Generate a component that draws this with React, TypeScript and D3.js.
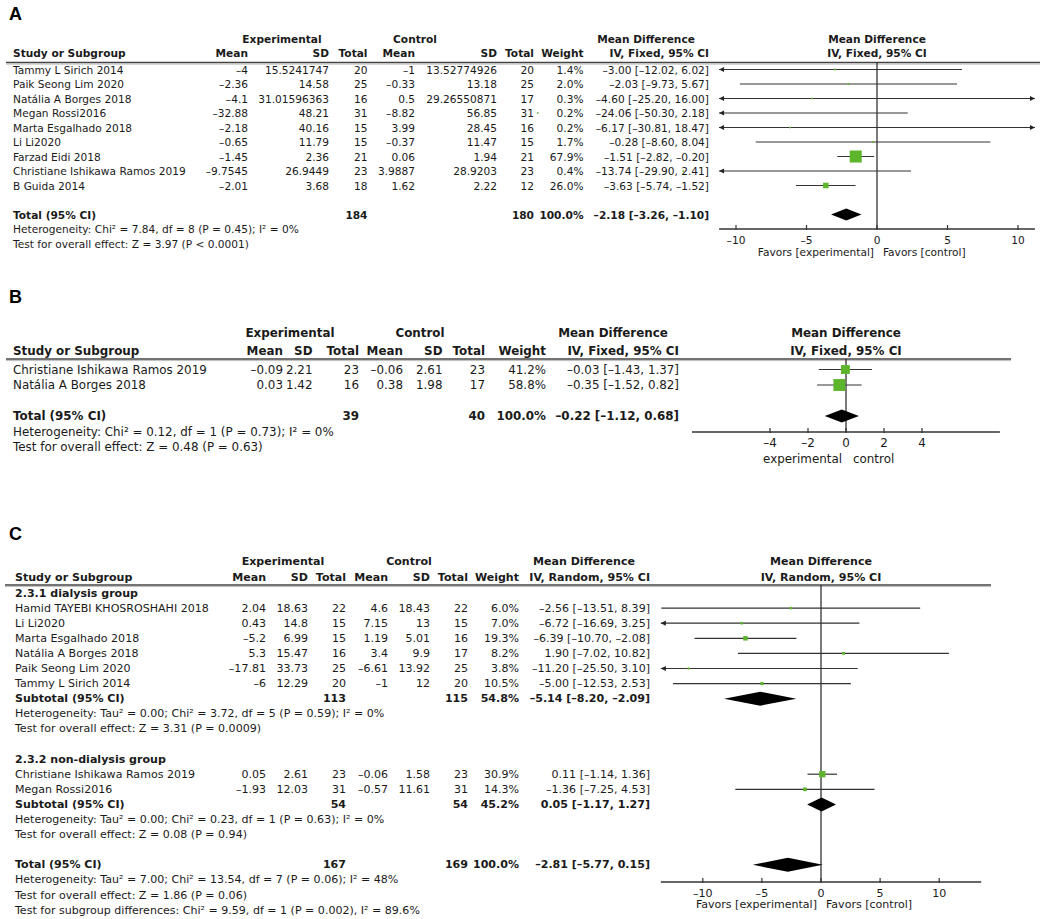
import React from "react";
import * as d3 from "d3";

const FONT = "'DejaVu Sans', Verdana, sans-serif";
const GREEN = "#5db52c";
const INK = "#1a1a1a";

// ---------- Panel A data ----------
const aStudies = ["Tammy L Sirich 2014", "Paik Seong Lim 2020", "Natália A Borges 2018", "Megan Rossi2016", "Marta Esgalhado 2018", "Li Li2020", "Farzad Eidi 2018", "Christiane Ishikawa Ramos 2019", "B Guida 2014"];
const aExpMean = [-4, -2.36, -4.1, -32.88, -2.18, -0.65, -1.45, -9.7545, -2.01];
const aExpSD = [15.5241747, 14.58, 31.01596363, 48.21, 40.16, 11.79, 2.36, 26.9449, 3.68];
const aExpN = [20, 25, 16, 31, 15, 15, 21, 23, 18];
const aCtrlMean = [-1, -0.33, 0.5, -8.82, 3.99, -0.37, 0.06, 3.9887, 1.62];
const aCtrlSD = [13.52774926, 13.18, 29.26550871, 56.85, 28.45, 11.47, 1.94, 28.9203, 2.22];
const aCtrlN = [20, 25, 17, 31, 16, 15, 21, 23, 12];
const aWeight = [1.4, 2.0, 0.3, 0.2, 0.2, 1.7, 67.9, 0.4, 26.0];
const aMD = [-3.0, -2.03, -4.6, -24.06, -6.17, -0.28, -1.51, -13.74, -3.63];
const aLo = [-12.02, -9.73, -25.2, -50.3, -30.81, -8.6, -2.82, -29.9, -5.74];
const aHi = [6.02, 5.67, 16.0, 2.18, 18.47, 8.04, -0.2, 2.41, -1.52];
const aTotal = { n1: 184, n2: 180, w: 100.0, md: -2.18, lo: -3.26, hi: -1.1 };
const aNotes = ["Heterogeneity: Chi² = 7.84, df = 8 (P = 0.45); I² = 0%", "Test for overall effect: Z = 3.97 (P < 0.0001)"];
const aTicks = [-10, -5, 0, 5, 10];

// ---------- Panel B data ----------
const bStudies = ["Christiane Ishikawa Ramos 2019", "Natália A Borges 2018"];
const bExpMean = [-0.09, 0.03];
const bExpSD = [2.21, 1.42];
const bExpN = [23, 16];
const bCtrlMean = [-0.06, 0.38];
const bCtrlSD = [2.61, 1.98];
const bCtrlN = [23, 17];
const bWeight = [41.2, 58.8];
const bMD = [-0.03, -0.35];
const bLo = [-1.43, -1.52];
const bHi = [1.37, 0.82];
const bTotal = { n1: 39, n2: 40, w: 100.0, md: -0.22, lo: -1.12, hi: 0.68 };
const bNotes = ["Heterogeneity: Chi² = 0.12, df = 1 (P = 0.73); I² = 0%", "Test for overall effect: Z = 0.48 (P = 0.63)"];
const bTicks = [-4, -2, 0, 2, 4];

// ---------- Panel C data ----------
const cGroup1Title = "2.3.1 dialysis group";
const cG1Studies = ["Hamid TAYEBI KHOSROSHAHI 2018", "Li Li2020", "Marta Esgalhado 2018", "Natália A Borges 2018", "Paik Seong Lim 2020", "Tammy L Sirich 2014"];
const cG1ExpMean = [2.04, 0.43, -5.2, 5.3, -17.81, -6];
const cG1ExpSD = [18.63, 14.8, 6.99, 15.47, 33.73, 12.29];
const cG1ExpN = [22, 15, 15, 16, 25, 20];
const cG1CtrlMean = [4.6, 7.15, 1.19, 3.4, -6.61, -1];
const cG1CtrlSD = [18.43, 13, 5.01, 9.9, 13.92, 12];
const cG1CtrlN = [22, 15, 16, 17, 25, 20];
const cG1Weight = [6.0, 7.0, 19.3, 8.2, 3.8, 10.5];
const cG1MD = [-2.56, -6.72, -6.39, 1.9, -11.2, -5.0];
const cG1Lo = [-13.51, -16.69, -10.7, -7.02, -25.5, -12.53];
const cG1Hi = [8.39, 3.25, -2.08, 10.82, 3.1, 2.53];
const cG1Sub = { n1: 113, n2: 115, w: 54.8, md: -5.14, lo: -8.2, hi: -2.09 };
const cG1Notes = ["Heterogeneity: Tau² = 0.00; Chi² = 3.72, df = 5 (P = 0.59); I² = 0%", "Test for overall effect: Z = 3.31 (P = 0.0009)"];

const cGroup2Title = "2.3.2 non-dialysis group";
const cG2Studies = ["Christiane Ishikawa Ramos 2019", "Megan Rossi2016"];
const cG2ExpMean = [0.05, -1.93];
const cG2ExpSD = [2.61, 12.03];
const cG2ExpN = [23, 31];
const cG2CtrlMean = [-0.06, -0.57];
const cG2CtrlSD = [1.58, 11.61];
const cG2CtrlN = [23, 31];
const cG2Weight = [30.9, 14.3];
const cG2MD = [0.11, -1.36];
const cG2Lo = [-1.14, -7.25];
const cG2Hi = [1.36, 4.53];
const cG2Sub = { n1: 54, n2: 54, w: 45.2, md: 0.05, lo: -1.17, hi: 1.27 };
const cG2Notes = ["Heterogeneity: Tau² = 0.00; Chi² = 0.23, df = 1 (P = 0.63); I² = 0%", "Test for overall effect: Z = 0.08 (P = 0.94)"];

const cTotal = { n1: 167, n2: 169, w: 100.0, md: -2.81, lo: -5.77, hi: 0.15 };
const cNotes = ["Heterogeneity: Tau² = 7.00; Chi² = 13.54, df = 7 (P = 0.06); I² = 48%", "Test for overall effect: Z = 1.86 (P = 0.06)", "Test for subgroup differences: Chi² = 9.59, df = 1 (P = 0.002), I² = 89.6%"];
const cTicks = [-10, -5, 0, 5, 10];

// ---------- helpers ----------
const dash = (s: string) => s.replace("-", "–");
const fmt = (v: number) => dash(String(v));
const fmt2 = (v: number) => dash(v.toFixed(2));
const ciText = (m: number, l: number, h: number) => `${fmt2(m)} [${fmt2(l)}, ${fmt2(h)}]`;
const wText = (w: number) => `${w.toFixed(1)}%`;

type Row =
  | { kind: "study"; y: number; name: string; vals: string[]; md: number; lo: number; hi: number; w: number }
  | { kind: "title"; y: number; name: string }
  | { kind: "total"; y: number; name: string; n1: number; n2: number; w: number; md: number; lo: number; hi: number }
  | { kind: "note"; y: number; text: string };

function studyRows(
  names: string[], em: number[], es: number[], en: number[], cm: number[], cs: number[], cn: number[],
  w: number[], md: number[], lo: number[], hi: number[], y0: number, step: number
): Row[] {
  return names.map((n, i) => ({
    kind: "study" as const,
    y: y0 + i * step,
    name: n,
    vals: [fmt(em[i]), fmt(es[i]), String(en[i]), fmt(cm[i]), fmt(cs[i]), String(cn[i]), wText(w[i])],
    md: md[i], lo: lo[i], hi: hi[i], w: w[i],
  }));
}

interface Cfg {
  label: string; labelY: number; fs: number;
  h1: number; h2: number; lineY: number; lineX1: number; lineX2: number;
  nameX: number; cols: number[]; ciX: number;
  expX: number; ctrlX: number; mdX: number; ivText: string;
  zeroX: number; unit: number; ext: number; axisY: number; ticks: number[];
  favL: string; favR: string; favDy: number; favGapL: number; favGapR: number;
  sq: number; dh: number;
  rows: Row[];
}

function Panel({ c }: { c: Cfg }) {
  const x = d3.scaleLinear().domain([-c.ext, c.ext]).range([c.zeroX - c.ext * c.unit, c.zeroX + c.ext * c.unit]);
  const t = (props: any, s: string, bold = false, size = c.fs) => (
    <text {...props} fontFamily={FONT} fontSize={size} fontWeight={bold ? "bold" : "normal"} fill={INK} dominantBaseline="central">{s}</text>
  );
  const hdr = ["Mean", "SD", "Total", "Mean", "SD", "Total", "Weight"];
  const els: any[] = [];
  c.rows.forEach((r, i) => {
    if (r.kind === "study") {
      els.push(<g key={"t" + i}>{t({ x: c.nameX, y: r.y }, r.name)}</g>);
      r.vals.forEach((v, j) => els.push(<g key={`v${i}-${j}`}>{t({ x: c.cols[j], y: r.y, textAnchor: "end" }, v)}</g>));
      els.push(<g key={"ci" + i}>{t({ x: c.ciX, y: r.y, textAnchor: "end" }, ciText(r.md, r.lo, r.hi))}</g>);
      const l = Math.max(r.lo, -c.ext), h = Math.min(r.hi, c.ext);
      const xl = x(l), xh = x(h);
      els.push(<line key={"ln" + i} x1={xl} x2={xh} y1={r.y} y2={r.y} stroke="#333" strokeWidth={1.2} />);
      if (r.lo < -c.ext) els.push(<path key={"al" + i} d={`M${xl},${r.y}L${xl + 5},${r.y - 2.6}L${xl + 5},${r.y + 2.6}Z`} fill="#222" />);
      if (r.hi > c.ext) els.push(<path key={"ar" + i} d={`M${xh},${r.y}L${xh - 5},${r.y - 2.6}L${xh - 5},${r.y + 2.6}Z`} fill="#222" />);
      const s = c.sq * (1.5 + 0.155 * r.w);
      els.push(<rect key={"sq" + i} x={x(r.md) - s / 2} y={r.y - s / 2} width={s} height={s} fill={GREEN} />);
    } else if (r.kind === "title") {
      els.push(<g key={"t" + i}>{t({ x: c.nameX, y: r.y }, r.name, true)}</g>);
    } else if (r.kind === "total") {
      els.push(<g key={"t" + i}>{t({ x: c.nameX, y: r.y }, r.name, true)}</g>);
      els.push(<g key={"n1" + i}>{t({ x: c.cols[2], y: r.y, textAnchor: "end" }, String(r.n1), true)}</g>);
      els.push(<g key={"n2" + i}>{t({ x: c.cols[5], y: r.y, textAnchor: "end" }, String(r.n2), true)}</g>);
      els.push(<g key={"w" + i}>{t({ x: c.cols[6], y: r.y, textAnchor: "end" }, wText(r.w), true)}</g>);
      els.push(<g key={"ci" + i}>{t({ x: c.ciX, y: r.y, textAnchor: "end" }, ciText(r.md, r.lo, r.hi), true)}</g>);
      const pts = [[x(r.lo), r.y], [x(r.md), r.y - c.dh], [x(r.hi), r.y], [x(r.md), r.y + c.dh]];
      els.push(<polygon key={"d" + i} points={pts.map((p) => p.join(",")).join(" ")} fill="#000" />);
    } else {
      els.push(<g key={"n" + i}>{t({ x: c.nameX, y: r.y }, r.text)}</g>);
    }
  });
  return (
    <g>
      <text x={9} y={c.labelY} fontFamily="'Liberation Sans', Arial, sans-serif" fontWeight="bold" fontSize={18} fill="#000">{c.label}</text>
      {t({ x: c.expX, y: c.h1, textAnchor: "middle" }, "Experimental", true)}
      {t({ x: c.ctrlX, y: c.h1, textAnchor: "middle" }, "Control", true)}
      {t({ x: c.mdX, y: c.h1, textAnchor: "middle" }, "Mean Difference", true)}
      {t({ x: c.zeroX, y: c.h1, textAnchor: "middle" }, "Mean Difference", true)}
      {t({ x: c.nameX, y: c.h2 }, "Study or Subgroup", true)}
      {hdr.map((h, j) => <g key={"h" + j}>{t({ x: c.cols[j], y: c.h2, textAnchor: "end" }, h, true)}</g>)}
      {t({ x: c.ciX, y: c.h2, textAnchor: "end" }, c.ivText, true)}
      {t({ x: c.zeroX, y: c.h2, textAnchor: "middle" }, c.ivText, true)}
      <line x1={c.lineX1} x2={c.lineX2} y1={c.lineY} y2={c.lineY} stroke="#444" strokeWidth={1.6} />
      <line x1={c.lineX1} x2={c.lineX2} y1={c.lineY + 1.6} y2={c.lineY + 1.6} stroke="#aaa" strokeWidth={0.8} />
      <line x1={c.zeroX} x2={c.zeroX} y1={c.lineY} y2={c.axisY} stroke="#222" strokeWidth={1.2} />
      {els}
      <line x1={x(-c.ext)} x2={x(c.ext)} y1={c.axisY} y2={c.axisY} stroke="#333" strokeWidth={1.3} />
      {c.ticks.map((tk) => (
        <g key={"tk" + tk}>
          <line x1={x(tk)} x2={x(tk)} y1={c.axisY - 4} y2={c.axisY + 1} stroke="#333" strokeWidth={1.2} />
          {t({ x: x(tk), y: c.axisY + 11, textAnchor: "middle" }, dash(String(tk)))}
        </g>
      ))}
      {t({ x: c.zeroX - c.favGapL, y: c.axisY + c.favDy, textAnchor: "end" }, c.favL)}
      {t({ x: c.zeroX + c.favGapR, y: c.axisY + c.favDy }, c.favR)}
    </g>
  );
}

// ---------- build panels ----------
const aStep = 14.5;
const aRows: Row[] = [
  ...studyRows(aStudies, aExpMean, aExpSD, aExpN, aCtrlMean, aCtrlSD, aCtrlN, aWeight, aMD, aLo, aHi, 69.5, aStep),
  { kind: "total", y: 69.5 + (aStudies.length + 1) * aStep, name: "Total (95% CI)", ...aTotal },
  ...aNotes.map((n, i) => ({ kind: "note" as const, y: 69.5 + (aStudies.length + 2 + i) * aStep, text: n })),
];
const cfgA: Cfg = {
  label: "A", labelY: 19.5, fs: 10.6, h1: 39, h2: 53, lineY: 62.5, lineX1: 6, lineX2: 1040,
  nameX: 13, cols: [248, 329, 367.5, 415, 497, 534, 583.5], ciX: 709,
  expX: 282, ctrlX: 415, mdX: 646, ivText: "IV, Fixed, 95% CI",
  zeroX: 877, unit: 14.1, ext: 11.2, axisY: 229, ticks: aTicks,
  favL: "Favors [experimental]", favR: "Favors [control]", favDy: 23, favGapL: 3, favGapR: 6,
  sq: 1, dh: 6, rows: aRows,
};

const bStep = 15.5;
const bRows: Row[] = [
  ...studyRows(bStudies, bExpMean, bExpSD, bExpN, bCtrlMean, bCtrlSD, bCtrlN, bWeight, bMD, bLo, bHi, 369.5, bStep),
  { kind: "total", y: 369.5 + (bStudies.length + 1) * bStep, name: "Total (95% CI)", ...bTotal },
  ...bNotes.map((n, i) => ({ kind: "note" as const, y: 369.5 + (bStudies.length + 2 + i) * bStep, text: n })),
];
const cfgB: Cfg = {
  label: "B", labelY: 303, fs: 11.9, h1: 333, h2: 351, lineY: 359, lineX1: 6, lineX2: 1011,
  nameX: 13, cols: [283, 312.5, 359, 403, 442.5, 485, 546], ciX: 679,
  expX: 290, ctrlX: 420, mdX: 613, ivText: "IV, Fixed, 95% CI",
  zeroX: 846, unit: 19, ext: 8.1, axisY: 432, ticks: bTicks,
  favL: "experimental", favR: "control", favDy: 27, favGapL: 4, favGapR: 7,
  sq: 1.12, dh: 6.5, rows: bRows,
};

const cStep = 15.1;
const cY0 = 593;
const g1 = cG1Studies.length;
const g2 = cG2Studies.length;
const cRows: Row[] = [
  { kind: "title", y: cY0, name: cGroup1Title },
  ...studyRows(cG1Studies, cG1ExpMean, cG1ExpSD, cG1ExpN, cG1CtrlMean, cG1CtrlSD, cG1CtrlN, cG1Weight, cG1MD, cG1Lo, cG1Hi, cY0 + cStep, cStep),
  { kind: "total", y: cY0 + (g1 + 1) * cStep, name: "Subtotal (95% CI)", ...cG1Sub },
  ...cG1Notes.map((n, i) => ({ kind: "note" as const, y: cY0 + (g1 + 2 + i) * cStep, text: n })),
  { kind: "title", y: cY0 + (g1 + 5) * cStep, name: cGroup2Title },
  ...studyRows(cG2Studies, cG2ExpMean, cG2ExpSD, cG2ExpN, cG2CtrlMean, cG2CtrlSD, cG2CtrlN, cG2Weight, cG2MD, cG2Lo, cG2Hi, cY0 + (g1 + 6) * cStep, cStep),
  { kind: "total", y: cY0 + (g1 + g2 + 6) * cStep, name: "Subtotal (95% CI)", ...cG2Sub },
  ...cG2Notes.map((n, i) => ({ kind: "note" as const, y: cY0 + (g1 + g2 + 7 + i) * cStep, text: n })),
  { kind: "total", y: cY0 + (g1 + g2 + 10) * cStep, name: "Total (95% CI)", ...cTotal },
  ...cNotes.map((n, i) => ({ kind: "note" as const, y: cY0 + (g1 + g2 + 11 + i) * cStep, text: n })),
];
const cfgC: Cfg = {
  label: "C", labelY: 540, fs: 11.05, h1: 561, h2: 577, lineY: 585, lineX1: 5, lineX2: 991,
  nameX: 15, cols: [266, 308, 346, 388, 430, 468, 519], ciX: 650,
  expX: 283, ctrlX: 409, mdX: 584, ivText: "IV, Random, 95% CI",
  zeroX: 821, unit: 11.82, ext: 13.55, axisY: 882, ticks: cTicks,
  favL: "Favors [experimental]", favR: "Favors [control]", favDy: 22, favGapL: 4, favGapR: 5,
  sq: 1, dh: 7, rows: cRows,
};

export default function App() {
  return (
    <svg width={1050} height={919} style={{ position: "absolute", left: 0, top: 0, background: "#fff" }}>
      <rect width={1050} height={919} fill="#fff" />
      <Panel c={cfgA} />
      <Panel c={cfgB} />
      <Panel c={cfgC} />
    </svg>
  );
}
